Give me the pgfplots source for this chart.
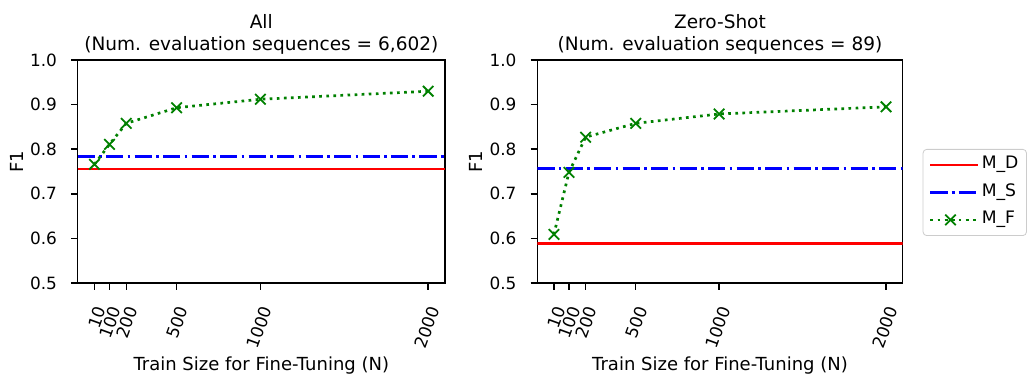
\documentclass[border=0pt]{standalone}
\usepackage{fontspec}
\setmainfont{DejaVu Sans}
\usepackage{pgfplots}
\pgfplotsset{compat=1.18}
\definecolor{mplgreen}{rgb}{0,0.5,0}
\begin{document}
\fontsize{9}{11.25}\selectfont
\begin{tikzpicture}
\pgfplotsset{
  myax/.style={
    scale only axis, height=111.5pt,
    xmin=-89.5, xmax=2099.5, ymin=0.5, ymax=1.0,
    xtick={10,100,200,500,1000,2000},
    xticklabels={10,100,200,500,1000,2000},
    ytick={0.5,0.6,0.7,0.8,0.9,1.0},
    yticklabel style={/pgf/number format/fixed, /pgf/number format/fixed zerofill, /pgf/number format/precision=1, /pgf/number format/assume math mode=true},
    tick align=outside, major tick length=3.3pt,
    tick pos=left,
    tick style={line width=0.72pt, black},
    axis line style={line width=0.72pt},
    every tick label/.append style={font=\fontsize{8.45}{10}\selectfont},
    xticklabel style={rotate=70, anchor=north east, inner sep=0pt},
    xticklabel shift=7.3pt,
    yticklabel style={anchor=east, inner sep=0pt},
    yticklabel shift=6.9pt,
    xlabel={Train Size for Fine-Tuning (N)},
    ylabel={F1},
    xlabel style={at={(axis description cs:0.5,0)}, anchor=base, yshift=-43.5pt, inner sep=0pt},
    title style={align=center, font=\fontsize{9.25}{11.25}\selectfont, anchor=south, at={(0.5,1)}, inner sep=0pt, yshift=-3.5pt},
    legend cell align=left,
  },
  mdline/.style={red, line width=1.35pt, no marks},
  msline/.style={blue, line width=1.35pt, no marks, dash pattern=on 8.6pt off 2.15pt on 1.34pt off 2.15pt},
  mfline/.style={mplgreen, line width=1.35pt, dash pattern=on 1.34pt off 2.2pt, mark=x, mark size=3.7pt, mark options={solid, line width=0.9pt}},
}
\begin{axis}[myax, width=183.6pt, at={(38.85pt,45.5pt)}, anchor=south west,
  ylabel style={at={(axis description cs:-0.166,0.543)}, anchor=center, inner sep=0pt},
  title={All\\(Num. evaluation sequences = 6,602)}]
\addplot[mdline] coordinates {(-89.5,0.7556) (2099.5,0.7556)};
\addplot[msline] coordinates {(-89.5,0.783) (2099.5,0.783)};
\addplot[mfline] coordinates {(10,0.766) (100,0.811) (200,0.858) (500,0.893) (1000,0.912) (2000,0.930)};
\end{axis}
\begin{axis}[myax, width=182.7pt, at={(268.65pt,45.5pt)}, anchor=south west,
  ylabel style={at={(axis description cs:-0.167,0.543)}, anchor=center, inner sep=0pt},
  title={Zero-Shot\\(Num. evaluation sequences = 89)},
  legend style={at={(1.0547,0.601)}, anchor=north west, draw=black!20, rounded corners=1.8pt, fill=white,
    inner xsep=3pt, inner ysep=2.2pt, row sep=2.4pt,
    font=\fontsize{8.6}{10.5}\selectfont,
    nodes={inner sep=1pt, text height=6.6pt, text depth=2.7pt}},
  legend image code/.code={\path (0pt,0pt) -- (24pt,0pt);\draw[mark repeat=2,mark phase=2,#1] plot coordinates {(0pt,0pt) (10pt,0pt) (20pt,0pt)};},
  ]
\addplot[mdline] coordinates {(-89.5,0.589) (2099.5,0.589)};
\addlegendentry{M\_D}
\addplot[msline] coordinates {(-89.5,0.757) (2099.5,0.757)};
\addlegendentry{M\_S}
\addplot[mfline] coordinates {(10,0.609) (100,0.748) (200,0.827) (500,0.858) (1000,0.879) (2000,0.895)};
\addlegendentry{M\_F}
\end{axis}
\pgfresetboundingbox
\path (0,0) rectangle (514pt,187pt);
\end{tikzpicture}
\end{document}
